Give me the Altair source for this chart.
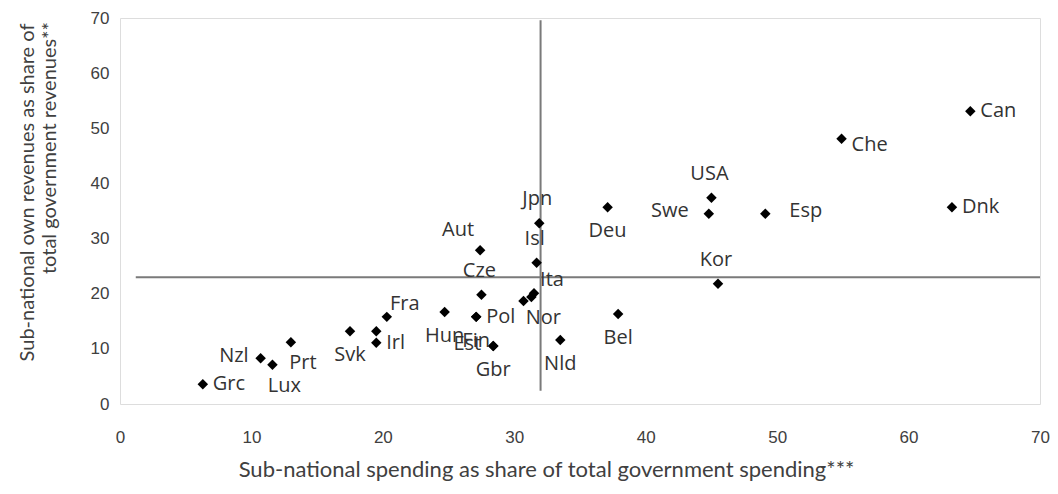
import altair as alt
import pandas as pd

# Country codes, x = sub-national spending share, y = sub-national own revenue share
countries = ["Grc", "Nzl", "Lux", "Prt", "Svk", "", "Irl", "Fra", "Hun", "Fin", "Pol",
             "Est", "Gbr", "Aut", "Cze", "Jpn", "Isl", "Ita", "Nor", "", "Nld",
             "Deu", "Bel", "USA", "Swe", "Esp", "Kor", "Che", "Can", "Dnk"]
spending = [6.3, 10.7, 11.6, 13.0, 17.5, 19.5, 19.5, 20.3, 24.7, 27.1, 27.1,
            28.4, 28.4, 27.4, 27.5, 31.9, 31.7, 31.5, 31.3, 30.7, 33.5,
            37.1, 37.9, 45.0, 44.8, 49.1, 45.5, 54.9, 64.7, 63.3]
revenues = [3.6, 8.3, 7.1, 11.2, 13.2, 13.2, 11.1, 15.8, 16.7, 15.8, 15.8,
            10.5, 10.5, 27.9, 19.8, 32.8, 25.6, 20.1, 19.4, 18.7, 11.6,
            35.7, 16.3, 37.4, 34.5, 34.5, 21.8, 48.1, 53.1, 35.7]
# label placement relative to marker (categorical codes)
placement = ["R", "L", "BR", "BR", "B", "N", "R", "AR", "B", "B", "R",
             "L", "B", "AL", "A", "A", "A", "AR", "BR", "N", "B",
             "B", "B", "A", "LF", "RF", "A", "RB", "R", "R"]

# reference lines (averages)
vline_x = [32.0]
vline_y = [2.4, 69.6]
hline_y = [23.0]
hline_x = [1.2, 70.0]

x_title = "Sub-national spending as share of total government spending***"
y_title_1 = "Sub-national own revenues as share of"
y_title_2 = "total government revenues**"

df = pd.DataFrame({"c": countries, "x": spending, "y": revenues, "p": placement})

xscale = alt.Scale(domain=[0, 70], nice=False, zero=False)
yscale = alt.Scale(domain=[0, 70], nice=False, zero=False)

label_font = "Open Sans"
title_font = "Lato"
title_color = "#404040"

xaxis = alt.Axis(values=list(range(0, 71, 10)), grid=False, ticks=False, domain=False,
                 labelFont="Liberation Sans", labelFontSize=17, labelColor="#404040",
                 labelPadding=25, labelFlush=False,
                 title=x_title, titleFont=title_font, titleFontSize=22, titleFontWeight="normal",
                 titleColor=title_color, titleX=426, titleY=65, titleAlign="center",
                 titleBaseline="middle")
yaxis = alt.Axis(values=list(range(0, 71, 10)), grid=False, ticks=False, domain=False,
                 labelFont="Liberation Sans", labelFontSize=17, labelColor="#404040",
                 labelPadding=11, labelFlush=False,
                 title=y_title_1, titleFont=title_font, titleFontSize=20, titleFontWeight="normal",
                 titleColor=title_color, titleX=-93, titleY=174, titleAngle=270,
                 titleAlign="center", titleBaseline="middle")

base = alt.Chart(df)

points = base.mark_point(shape="diamond", filled=True, size=110, color="black", opacity=1).encode(
    x=alt.X("x:Q", scale=xscale, axis=xaxis),
    y=alt.Y("y:Q", scale=yscale, axis=yaxis),
)

vdf = pd.DataFrame({"x": vline_x * 2, "y": vline_y})
hdf = pd.DataFrame({"x": hline_x, "y": hline_y * 2})
vline = alt.Chart(vdf).mark_line(color="#7a7a7a", strokeWidth=2).encode(
    x=alt.X("x:Q", scale=xscale), y=alt.Y("y:Q", scale=yscale))
hline = alt.Chart(hdf).mark_line(color="#7a7a7a", strokeWidth=2).encode(
    x=alt.X("x:Q", scale=xscale), y=alt.Y("y:Q", scale=yscale))

# second line of the y-axis title (placed separately, as in the original)
ytitle2 = alt.Chart(pd.DataFrame({"t": [y_title_2]})).mark_text(
    angle=270, align="center", baseline="middle", font=title_font, fontSize=20,
    color=title_color
).encode(x=alt.value(-70), y=alt.value(130), text="t:N")

offsets = {
    "R": ("left", 10, 0),
    "RF": ("left", 24, -3),
    "RB": ("left", 10, 6),
    "L": ("right", -12, -2),
    "LF": ("right", -20, -3),
    "A": ("center", -2, -24),
    "B": ("center", 0, 24),
    "AR": ("center", 18, -13),
    "AL": ("center", -22, -20),
    "BR": ("center", 12, 21),
}
label_layers = []
for code, (al, dx, dy) in offsets.items():
    label_layers.append(
        base.transform_filter(alt.datum.p == code).mark_text(
            align=al, baseline="middle", dx=dx, dy=dy, font=label_font,
            fontSize=20, color="#333333"
        ).encode(x=alt.X("x:Q", scale=xscale), y=alt.Y("y:Q", scale=yscale), text="c:N")
    )

chart = alt.layer(hline, vline, points, *label_layers, ytitle2).properties(
    width=920, height=386,
    autosize=alt.AutoSizeParams(type="none"),
    padding={"left": 112, "top": 10, "right": 10, "bottom": 80},
).configure_view(stroke="#a6a6a6", strokeWidth=1.5).configure(background="white")

chart.save("out.html", embed_options={"renderer": "svg", "actions": False})
